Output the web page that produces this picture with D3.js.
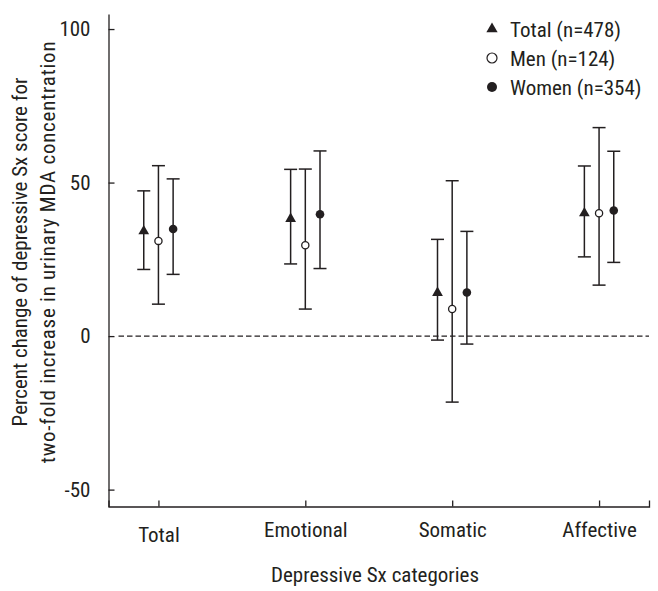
<!DOCTYPE html>
<html>
<head>
<meta charset="utf-8">
<script src="https://cdn.jsdelivr.net/npm/d3@7"></script>
<style>
  body { margin: 0; background: #fff; }
  text { font-family: "Liberation Sans Narrow", "Roboto Condensed", "Liberation Sans", sans-serif; fill: #231f20; }
</style>
</head>
<body>
<svg id="chart" width="658" height="591"></svg>
<script>
// ---- data ----
const categories = ["Total", "Emotional", "Somatic", "Affective"];
const groups = ["Total (n=478)", "Men (n=124)", "Women (n=354)"];
// point estimates (percent change) per group, in category order
const totalEst  = [34.2, 38.2, 14.1, 40.0];
const totalLow  = [21.7, 23.5, -1.3, 25.8];
const totalHigh = [47.3, 54.3, 31.5, 55.4];
const menEst    = [31.0, 29.6, 8.8, 40.0];
const menLow    = [10.4, 8.8, -21.5, 16.6];
const menHigh   = [55.5, 54.4, 50.6, 67.9];
const womenEst  = [34.9, 39.7, 14.2, 40.9];
const womenLow  = [20.1, 22.0, -2.6, 24.0];
const womenHigh = [51.2, 60.3, 34.1, 60.2];
const yTicks = [-50, 0, 50, 100];
const yTitle = ["Percent change of depressive Sx score for", "two-fold increase in urinary MDA concentration"];
const xTitle = "Depressive Sx categories";

const series = [
  {name: groups[0], est: totalEst, low: totalLow, high: totalHigh, shape: "triangle", offset: -0.1},
  {name: groups[1], est: menEst, low: menLow, high: menHigh, shape: "open", offset: 0},
  {name: groups[2], est: womenEst, low: womenLow, high: womenHigh, shape: "filled", offset: 0.1}
];

// ---- layout ----
const svg = d3.select("#chart");
const mLeft = 108.5, mRight = 649, mTop = 14, mBottom = 506.5;
const ink = "#231f20";

const x = d3.scaleLinear().domain([0.66, 4.34]).range([mLeft, mRight]);
const y = d3.scaleLinear().domain([-55.5, 104.9]).range([mBottom, mTop]);

// axes
const yAxis = d3.axisLeft(y).tickValues(yTicks).tickSize(-6).tickSizeOuter(0).tickPadding(18).tickFormat(d => String(d));
const gy = svg.append("g").attr("transform", `translate(${mLeft},0)`).call(yAxis);
gy.selectAll("text").style("font-size", "21px").attr("fill", ink);

const xAxis = d3.axisBottom(x).tickValues([1, 2, 3, 4]).tickSize(-6).tickSizeOuter(-6).tickPadding(16)
  .tickFormat(d => categories[d - 1]);
const gx = svg.append("g").attr("transform", `translate(0,${mBottom})`).call(xAxis);
gx.selectAll("text").style("font-size", "21px").attr("fill", ink);
gx.selectAll(".tick").filter(d => d === 1).select("text").attr("y", 21);

svg.selectAll(".domain, .tick line").attr("stroke", ink).attr("stroke-width", 1.3);

// zero reference line
svg.append("line")
  .attr("x1", mLeft + 10).attr("x2", mRight)
  .attr("y1", y(0)).attr("y2", y(0))
  .attr("stroke", ink).attr("stroke-width", 1.3).attr("stroke-dasharray", "5.5,3");

// error bars + markers
const capHalf = 6.5;
series.forEach(s => {
  const g = svg.append("g");
  categories.forEach((c, i) => {
    const cx = x(i + 1 + s.offset);
    g.append("line").attr("x1", cx).attr("x2", cx).attr("y1", y(s.low[i])).attr("y2", y(s.high[i]))
      .attr("stroke", ink).attr("stroke-width", 1.5);
    [s.low[i], s.high[i]].forEach(v => {
      g.append("line").attr("x1", cx - capHalf).attr("x2", cx + capHalf).attr("y1", y(v)).attr("y2", y(v))
        .attr("stroke", ink).attr("stroke-width", 1.5);
    });
    drawMarker(g, s.shape, cx, y(s.est[i]));
  });
});

function drawMarker(g, shape, cx, cy) {
  if (shape === "triangle") {
    g.append("path").attr("d", d3.symbol(d3.symbolTriangle, 50)()).attr("transform", `translate(${cx},${cy})`).attr("fill", ink);
  } else if (shape === "open") {
    g.append("circle").attr("cx", cx).attr("cy", cy).attr("r", 3.6).attr("fill", "#fff").attr("stroke", ink).attr("stroke-width", 1.3);
  } else {
    g.append("circle").attr("cx", cx).attr("cy", cy).attr("r", 4.3).attr("fill", ink);
  }
}

// legend
const legend = svg.append("g");
series.forEach((s, i) => {
  const ly = 29 + i * 29;
  if (s.shape === "triangle") {
    legend.append("path").attr("d", d3.symbol(d3.symbolTriangle, 55)()).attr("transform", `translate(492,${ly})`).attr("fill", ink);
  } else if (s.shape === "open") {
    legend.append("circle").attr("cx", 492).attr("cy", ly).attr("r", 5).attr("fill", "#fff").attr("stroke", ink).attr("stroke-width", 1.2);
  } else {
    legend.append("circle").attr("cx", 492).attr("cy", ly).attr("r", 5).attr("fill", ink);
  }
  legend.append("text").attr("x", 510).attr("y", ly + 8).style("font-size", "21px").text(s.name);
});

// titles
const yt = svg.append("text").attr("transform", "translate(27,252) rotate(-90)").attr("text-anchor", "middle").style("font-size", "21px");
yt.append("tspan").attr("x", 0).attr("dy", 0).text(yTitle[0]);
yt.append("tspan").attr("x", 0).attr("dy", 28).style("letter-spacing", "0.75px").text(yTitle[1]);

svg.append("text").attr("x", 375).attr("y", 582).attr("text-anchor", "middle").style("font-size", "21px").text(xTitle);
</script>
</body>
</html>
